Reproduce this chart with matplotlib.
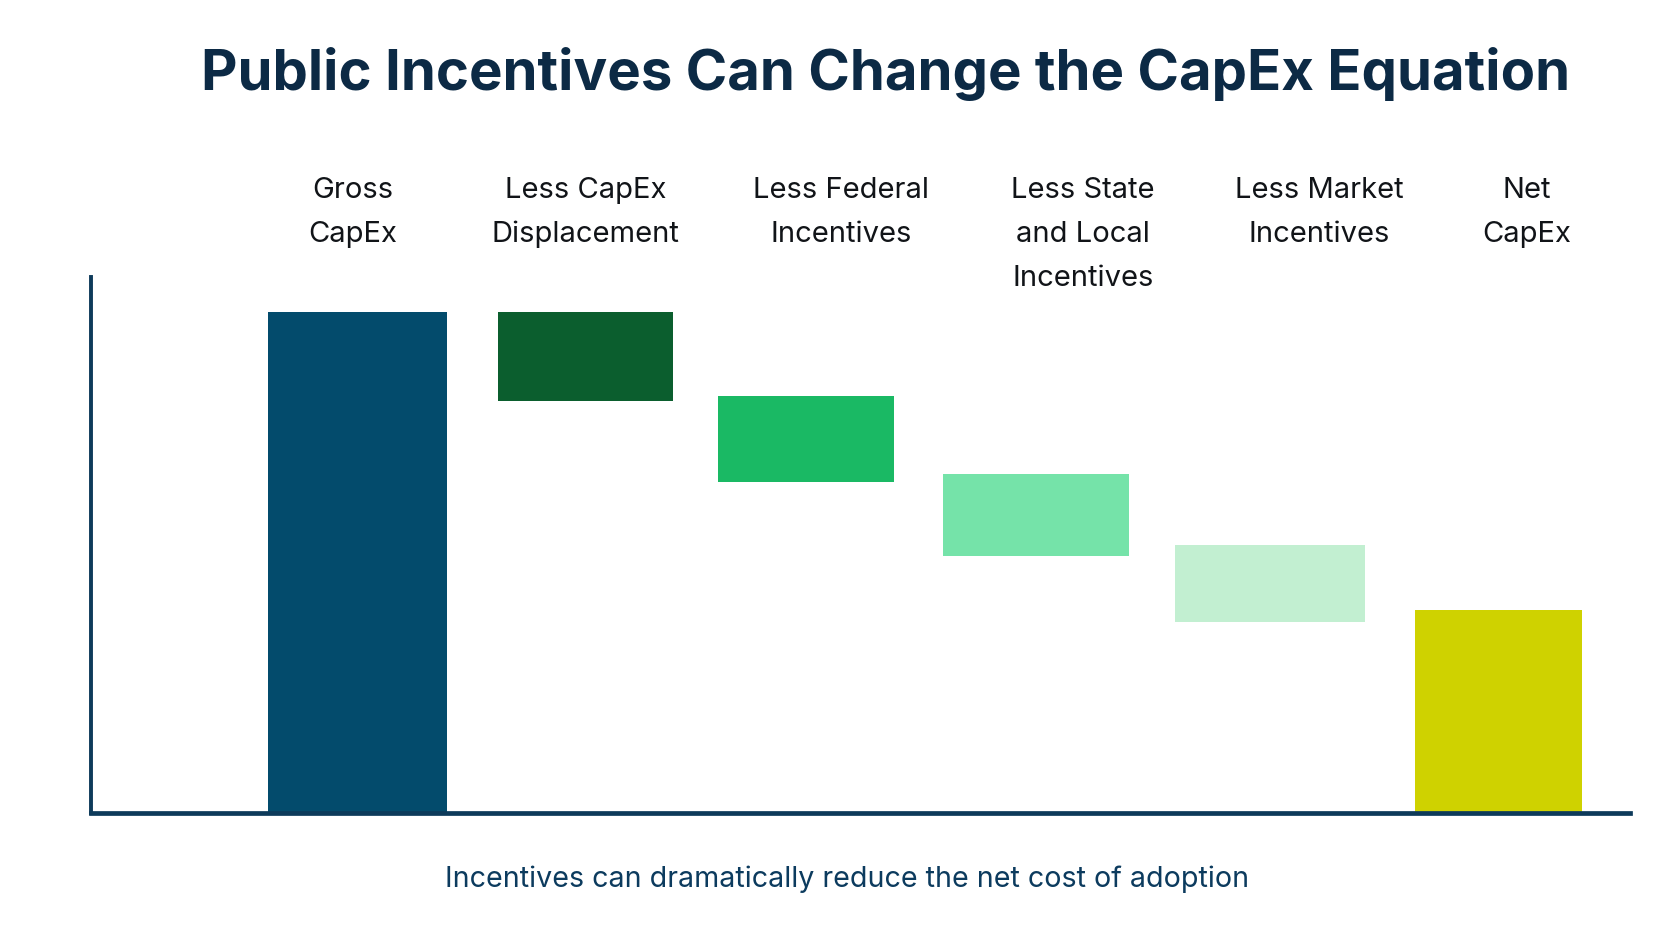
import matplotlib
matplotlib.use("Agg")
import matplotlib.pyplot as plt
import matplotlib.transforms as mtransforms

# ---- data ----
categories = ["Gross\nCapEx", "Less CapEx\nDisplacement", "Less Federal\nIncentives",
              "Less State\nand Local\nIncentives", "Less Market\nIncentives", "Net\nCapEx"]
bar_bottom = [0, 82.1, 66.0, 51.3, 38.1, 0]
bar_top = [100, 100, 83.2, 67.7, 53.4, 40.4]
title = "Public Incentives Can Change the CapEx Equation"
subtitle = "Incentives can dramatically reduce the net cost of adoption"

# ---- style / layout ----
colors = ["#034b6c", "#0b5e2e", "#1ab964", "#75e3a9", "#c2efd1", "#cfd200"]
bar_widths = [0.785, 0.767, 0.771, 0.817, 0.832, 0.731]
bar_shift = [0, 0, -0.036, -0.027, 0, 0]
label_shift = [-0.02, 0.0, 0.119, 0.179, 0.213, 0.124]
axis_color = "#0d3a5a"

W, H = 1672, 941
fig = plt.figure(figsize=(W / 100, H / 100), dpi=100)
fig.patch.set_facecolor("white")
ax = fig.add_axes([90.6 / W, 1 - 813 / H, (1630 - 90.6) / W, (813 - 277) / H])

xs = [i + s for i, s in enumerate(bar_shift)]
heights = [t - b for t, b in zip(bar_top, bar_bottom)]
ax.bar(xs, heights, bottom=bar_bottom, width=bar_widths, color=colors,
       edgecolor="none", zorder=1)

ax.set_xlim(-1.168, 5.575)
ax.set_ylim(0, 106.9)
for s in ["top", "right"]:
    ax.spines[s].set_visible(False)
ax.spines["left"].set_color(axis_color)
ax.spines["left"].set_linewidth(2.8)
ax.spines["bottom"].set_color(axis_color)
ax.spines["bottom"].set_linewidth(3.4)
ax.set_xticks([])
ax.set_yticks([])

# category labels above the plot
trans = mtransforms.blended_transform_factory(ax.transData, fig.transFigure)
baselines = [197.7, 241.7, 286.0]
for i, lab in enumerate(categories):
    for j, line in enumerate(lab.split("\n")):
        ax.text(i + label_shift[i], 1 - baselines[j] / H, line, transform=trans,
                ha="center", va="baseline", fontsize=21, family="Inter",
                color="#111418", clip_on=False)

fig.text(886 / W, 1 - 90 / H, title, ha="center", va="baseline",
         fontsize=40.5, fontweight="bold", family="Inter", color="#0c2a45")
fig.text(846.7 / W, 1 - 886.7 / H, subtitle, ha="center", va="baseline",
         fontsize=20.6, family="Inter", color="#0c3b5e")

fig.savefig("out.png", dpi=100, facecolor="white")
